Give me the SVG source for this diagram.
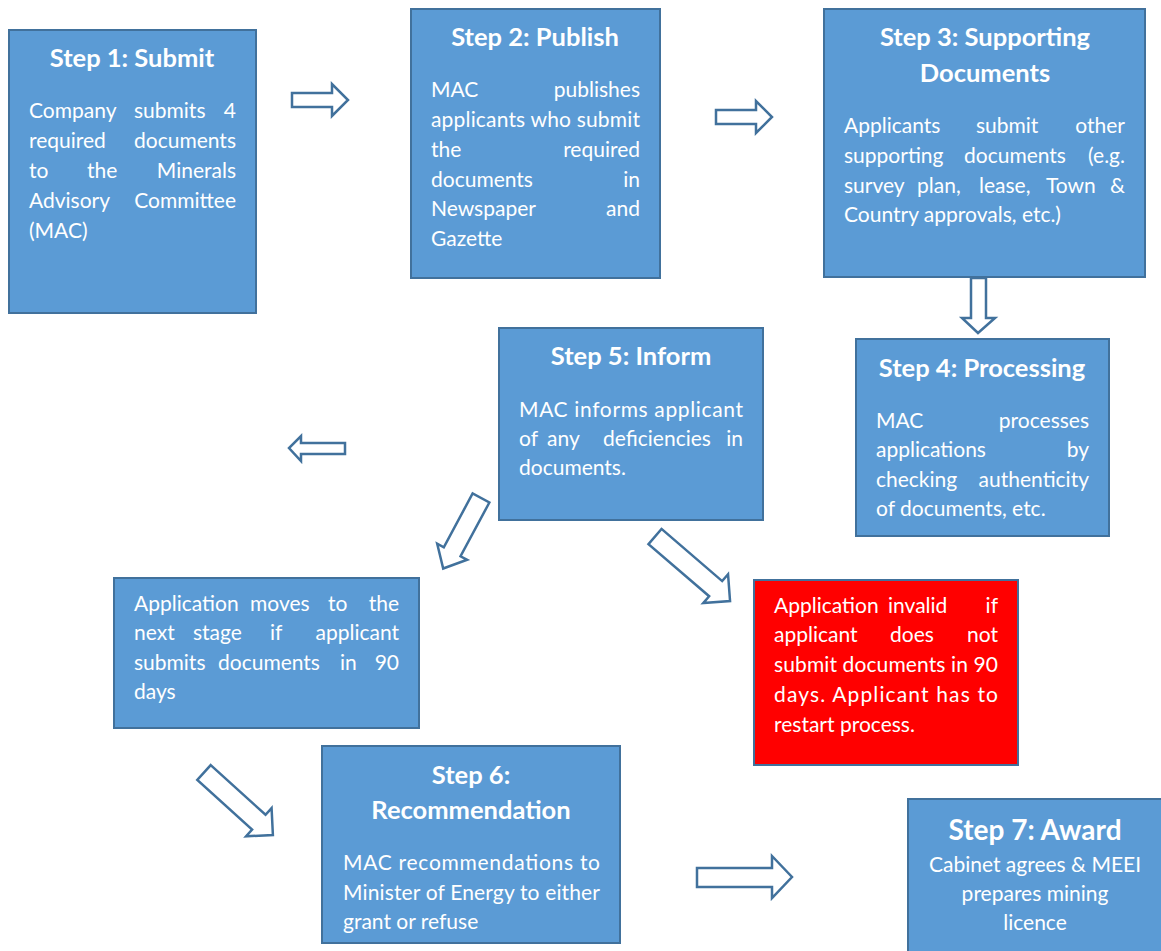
<svg xmlns="http://www.w3.org/2000/svg" width="1161" height="951" viewBox="0 0 1161 951">
<style>
.box{fill:#5B9BD5;stroke:#41719C;stroke-width:2}
.red{fill:#FF0000;stroke:#41719C;stroke-width:2}
.arr{fill:#FFFFFF;stroke:#41719C;stroke-width:2.5;stroke-linejoin:miter}
text{font-family:Lato,"Open Sans","Liberation Sans",sans-serif;fill:#FFFFFF}
.b{font-size:21px}
.t{font-size:25.5px;font-weight:bold;text-anchor:middle}
.t7{font-size:28px;font-weight:bold;text-anchor:middle}
.e{text-anchor:end}
.m{text-anchor:middle}
</style>
<rect width="1161" height="951" fill="#FFFFFF"/>
<g id="connectors">
<polygon class="arr" points="292,93 332,93 332,84 348,100 332,116 332,107 292,107"/>
<polygon class="arr" points="716,110 756,110 756,101 772,117 756,133 756,124 716,124"/>
<polygon class="arr" points="971,278 986,278 986,318 995,318 978,333 962,318 971,318"/>
<polygon class="arr" points="345,443 301,443 301,436 289,448 301,461 301,454 345,454"/>
<polygon class="arr" transform="translate(481,498) rotate(118.2)" points="0,-9.5 61,-9.5 61,-17 80,0 61,17 61,9.5 0,9.5"/>
<polygon class="arr" transform="translate(655,536.5) rotate(40.7)" points="0,-10 80,-10 80,-19 99,0 80,19 80,10 0,10"/>
<polygon class="arr" transform="translate(204,772.5) rotate(42.2)" points="0,-10 74,-10 74,-19 93,0 74,19 74,10 0,10"/>
<polygon class="arr" points="697,868 772,868 772,856 792,877 772,898 772,887 697,887"/>
</g>
<g id="step1">
<rect class="box" x="9" y="30" width="247" height="283"/>
<text class="t" x="132" y="67">Step 1: Submit</text>
<text class="b" x="29" y="118">Company</text><text class="b" x="134" y="118">submits</text><text class="b e" x="236" y="118">4</text>
<text class="b" x="29" y="148">required</text><text class="b e" x="236" y="148">documents</text>
<text class="b" x="29" y="178">to</text><text class="b" x="87" y="178">the</text><text class="b e" x="236" y="178">Minerals</text>
<text class="b" x="29" y="208">Advisory</text><text class="b e" x="236" y="208">Committee</text>
<text class="b" x="29" y="238">(MAC)</text>
</g>
<g id="step2">
<rect class="box" x="411" y="9" width="249" height="269"/>
<text class="t" x="535" y="46">Step 2: Publish</text>
<text class="b" x="431" y="97">MAC</text><text class="b e" x="640" y="97">publishes</text>
<text class="b" x="431" y="127" textLength="209" lengthAdjust="spacing">applicants who submit</text>
<text class="b" x="431" y="157">the</text><text class="b e" x="640" y="157">required</text>
<text class="b" x="431" y="187">documents</text><text class="b e" x="640" y="187">in</text>
<text class="b" x="431" y="216">Newspaper</text><text class="b e" x="640" y="216">and</text>
<text class="b" x="431" y="246">Gazette</text>
</g>
<g id="step3">
<rect class="box" x="824" y="9" width="321" height="268"/>
<text class="t" x="985" y="46">Step 3: Supporting</text>
<text class="t" x="985" y="82">Documents</text>
<text class="b" x="844" y="133">Applicants</text><text class="b" x="976" y="133">submit</text><text class="b e" x="1125" y="133">other</text>
<text class="b" x="844" y="163">supporting</text><text class="b" x="964" y="163">documents</text><text class="b e" x="1125" y="163">(e.g.</text>
<text class="b" x="844" y="193">survey</text><text class="b" x="917" y="193">plan,</text><text class="b" x="979" y="193">lease,</text><text class="b" x="1046" y="193">Town</text><text class="b e" x="1125" y="193">&amp;</text>
<text class="b" x="844" y="222">Country approvals, etc.)</text>
</g>
<g id="step4">
<rect class="box" x="856" y="339" width="253" height="197"/>
<text class="t" x="982" y="377">Step 4: Processing</text>
<text class="b" x="876" y="428">MAC</text><text class="b e" x="1089" y="428">processes</text>
<text class="b" x="876" y="457">applications</text><text class="b e" x="1089" y="457">by</text>
<text class="b" x="876" y="487">checking</text><text class="b e" x="1089" y="487">authenticity</text>
<text class="b" x="876" y="516">of documents, etc.</text>
</g>
<g id="step5">
<rect class="box" x="499" y="328" width="264" height="192"/>
<text class="t" x="631" y="365">Step 5: Inform</text>
<text class="b" x="519" y="417" textLength="224" lengthAdjust="spacing">MAC informs applicant</text>
<text class="b" x="519" y="446">of</text><text class="b" x="547" y="446">any</text><text class="b" x="603" y="446">deficiencies</text><text class="b e" x="743" y="446">in</text>
<text class="b" x="519" y="475">documents.</text>
</g>
<g id="next-stage">
<rect class="box" x="114" y="578" width="305" height="150"/>
<text class="b" x="134" y="611">Application</text><text class="b" x="250" y="611">moves</text><text class="b" x="328" y="611">to</text><text class="b e" x="399" y="611">the</text>
<text class="b" x="134" y="640">next</text><text class="b" x="193" y="640">stage</text><text class="b" x="270" y="640">if</text><text class="b e" x="399" y="640">applicant</text>
<text class="b" x="134" y="670">submits</text><text class="b" x="218" y="670">documents</text><text class="b" x="340" y="670">in</text><text class="b e" x="399" y="670">90</text>
<text class="b" x="134" y="699">days</text>
</g>
<g id="invalid">
<rect class="red" x="754" y="580" width="264" height="185"/>
<text class="b" x="774" y="613">Application</text><text class="b" x="888" y="613">invalid</text><text class="b e" x="998" y="613">if</text>
<text class="b" x="774" y="642">applicant</text><text class="b" x="890" y="642">does</text><text class="b e" x="998" y="642">not</text>
<text class="b" x="774" y="672" textLength="224" lengthAdjust="spacing">submit documents in 90</text>
<text class="b" x="774" y="702" textLength="224" lengthAdjust="spacing">days. Applicant has to</text>
<text class="b" x="774" y="732">restart process.</text>
</g>
<g id="step6">
<rect class="box" x="322" y="746" width="298" height="197"/>
<text class="t" x="471" y="784">Step 6:</text>
<text class="t" x="471" y="819">Recommendation</text>
<text class="b" x="343" y="870" textLength="257" lengthAdjust="spacing">MAC recommendations to</text>
<text class="b" x="343" y="900" textLength="257" lengthAdjust="spacing">Minister of Energy to either</text>
<text class="b" x="343" y="929">grant or refuse</text>
</g>
<g id="step7">
<rect class="box" x="908" y="799" width="262" height="170"/>
<text class="t7" x="1035" y="840">Step 7: Award</text>
<text class="b m" x="1035" y="872">Cabinet agrees &amp; MEEI</text>
<text class="b m" x="1035" y="901">prepares mining</text>
<text class="b m" x="1035" y="930">licence</text>
</g>
</svg>
